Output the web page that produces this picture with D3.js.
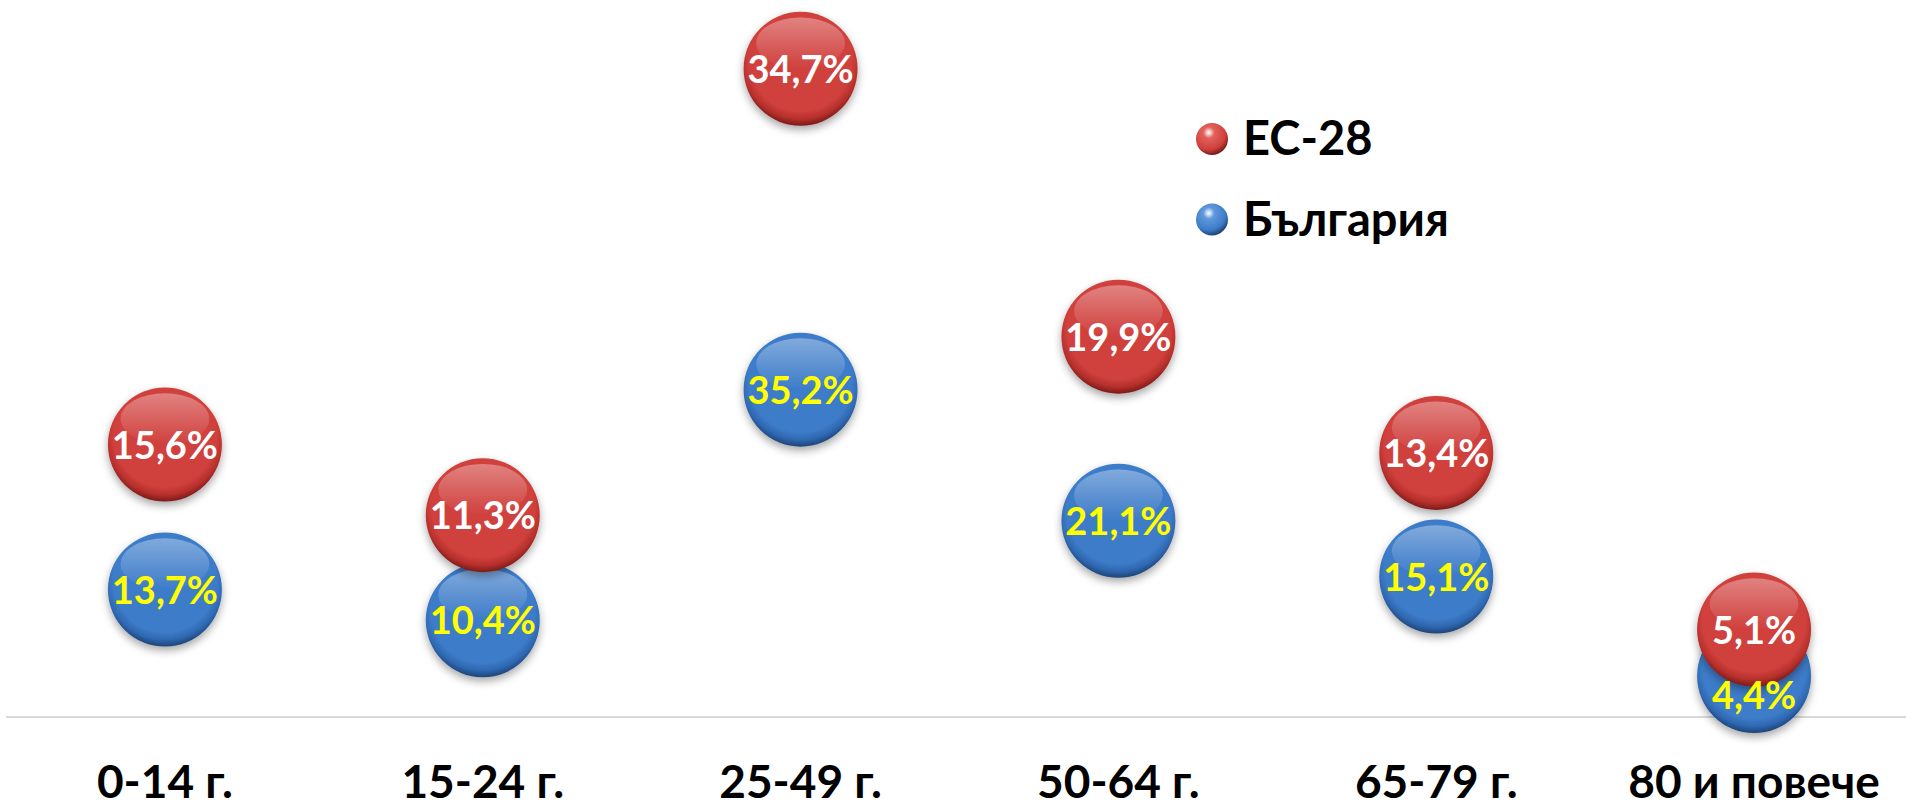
<!DOCTYPE html>
<html>
<head>
<meta charset="utf-8">
<script src="https://cdn.jsdelivr.net/npm/d3@7"></script>
<style>
  html, body { margin: 0; padding: 0; background: #fff; }
  svg { display: block; }
  text { font-family: Lato, "Open Sans", "Noto Sans", sans-serif; font-weight: 700; }
</style>
</head>
<body>
<script>
// ---- data ----
const categories = ["0-14 г.", "15-24 г.", "25-49 г.", "50-64 г.", "65-79 г.", "80 и повече"];
const seriesNames = ["ЕС-28", "България"];
const euValues = [15.6, 11.3, 34.7, 19.9, 13.4, 5.1];          // label values, ЕС-28
const euPlotY = [29.3, 21.7, 69.7, 40.9, 28.4, 9.4];           // vertical position of ЕС-28 bubbles (plot units)
const bgValues = [13.7, 10.4, 35.2, 21.1, 15.1, 4.4];          // label values and positions, България
const yDomain = [0, 77.1];

// ---- layout ----
const W = 1906, H = 807;
const svg = d3.select("body").append("svg").attr("width", W).attr("height", H);

const x = d3.scaleBand().domain(categories).range([6, 1913]).padding(0);
const y = d3.scaleLinear().domain(yDomain).range([717, 0]);
const R = 57;
const fmt = v => d3.format(".1f")(v).replace(".", ",") + "%";

// ---- defs ----
const defs = svg.append("defs");
const palettes = {
  red:  { light: "#e2615b", base: "#d0403c", dark: "#b52f2b", rim: "#7a1b19" },
  blue: { light: "#5f98dc", base: "#3e7cc9", dark: "#2e67b0", rim: "#1e4476" }
};
Object.entries(palettes).forEach(([k, p]) => {
  const g = defs.append("radialGradient").attr("id", "btn-" + k)
    .attr("cx", "50%").attr("cy", "42%").attr("r", "58%");
  g.append("stop").attr("offset", "0%").attr("stop-color", p.base);
  g.append("stop").attr("offset", "78%").attr("stop-color", p.base);
  g.append("stop").attr("offset", "90%").attr("stop-color", p.dark);
  g.append("stop").attr("offset", "100%").attr("stop-color", p.rim);
  const s = defs.append("radialGradient").attr("id", "sph-" + k)
    .attr("cx", "40%").attr("cy", "30%").attr("r", "70%");
  s.append("stop").attr("offset", "0%").attr("stop-color", "#ffffff").attr("stop-opacity", 0.9);
  s.append("stop").attr("offset", "25%").attr("stop-color", p.light);
  s.append("stop").attr("offset", "75%").attr("stop-color", p.base);
  s.append("stop").attr("offset", "100%").attr("stop-color", p.rim);
});
const hl = defs.append("linearGradient").attr("id", "hilite").attr("x1", 0).attr("y1", 0).attr("x2", 0).attr("y2", 1);
hl.append("stop").attr("offset", "0%").attr("stop-color", "#fff").attr("stop-opacity", 0.35);
hl.append("stop").attr("offset", "100%").attr("stop-color", "#fff").attr("stop-opacity", 0);
const sh = defs.append("filter").attr("id", "shadow").attr("x", "-30%").attr("y", "-30%").attr("width", "160%").attr("height", "170%");
sh.append("feDropShadow").attr("dx", 0).attr("dy", 4).attr("stdDeviation", 4)
  .attr("flood-color", "#000").attr("flood-opacity", 0.35);

// ---- baseline ----
svg.append("line")
  .attr("x1", x.range()[0]).attr("x2", W)
  .attr("y1", y(0)).attr("y2", y(0))
  .attr("stroke", "#d9d9d9").attr("stroke-width", 2);

// ---- category labels ----
svg.append("g").selectAll("text").data(categories).join("text")
  .attr("x", d => x(d) + x.bandwidth() / 2)
  .attr("y", 798)
  .attr("text-anchor", "middle")
  .attr("font-size", 46)
  .attr("fill", "#000")
  .text(d => d);

// ---- bubbles ----
const bgData = categories.map((c, i) => ({ c, v: bgValues[i], py: bgValues[i] }));
const euData = categories.map((c, i) => ({ c, v: euValues[i], py: euPlotY[i] }));

function drawBubbles(data, key) {
  const g = svg.append("g");
  const b = g.selectAll("g").data(data).join("g")
    .attr("transform", d => `translate(${x(d.c) + x.bandwidth() / 2},${y(d.py)})`);
  b.append("circle").attr("r", R).attr("fill", `url(#btn-${key})`).attr("filter", "url(#shadow)");
  b.append("ellipse").attr("cx", 0).attr("cy", -R * 0.45).attr("rx", R * 0.78).attr("ry", R * 0.45)
    .attr("fill", "url(#hilite)");
}
drawBubbles(bgData, "blue");
drawBubbles(euData, "red");

// ---- bubble labels ----
function drawLabels(data, color, dyFn) {
  svg.append("g").selectAll("text").data(data).join("text")
    .attr("x", d => x(d.c) + x.bandwidth() / 2)
    .attr("y", (d, i) => y(d.py) + 14 + dyFn(d, i))
    .attr("text-anchor", "middle")
    .attr("font-size", 38)
    .attr("fill", color)
    .text(d => fmt(d.v));
}
drawLabels(bgData, "#ffff00", (d, i) => i === categories.length - 1 ? 19 : 0);
drawLabels(euData, "#ffffff", () => 0);

// ---- legend ----
const legend = svg.append("g");
const legendKeys = ["red", "blue"];
seriesNames.forEach((name, i) => {
  const cy = 139 + i * 80.5;
  legend.append("circle").attr("cx", 1212).attr("cy", cy).attr("r", 16)
    .attr("fill", `url(#sph-${legendKeys[i]})`);
  legend.append("text").attr("x", 1243).attr("y", cy + 16)
    .attr("font-size", 47).attr("fill", "#000").text(name);
});
</script>
</body>
</html>
